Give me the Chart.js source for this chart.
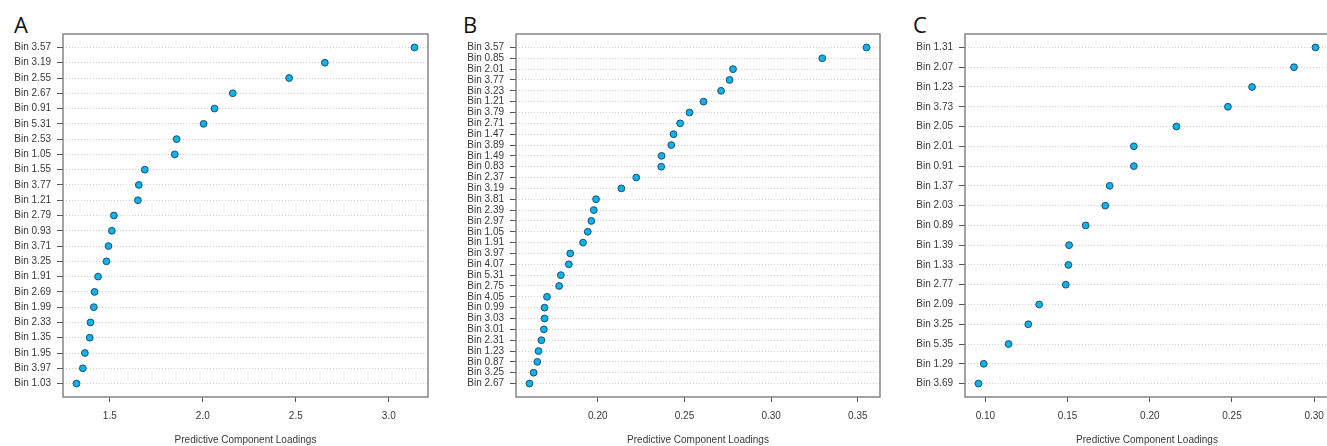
<!DOCTYPE html>
<html>
<head>
<meta charset="utf-8">
<script src="https://cdn.jsdelivr.net/npm/chart.js@4.4.1/dist/chart.umd.min.js"></script>
<style>
  html, body { margin: 0; padding: 0; background: #fff; overflow: hidden; width: 1327px; height: 446px; }
  .panel { position: absolute; top: 0; }
  .letter { position: absolute; font-family: "Open Sans", sans-serif; font-size: 22px; line-height: 22px; color: #111; }
</style>
</head>
<body>
<div class="letter" style="left:14px; top:13px;">A</div>
<div class="letter" style="left:463px; top:13px;">B</div>
<div class="letter" style="left:913px; top:13px;">C</div>
<canvas id="chartA" class="panel" style="left:0px;" width="440" height="446"></canvas>
<canvas id="chartB" class="panel" style="left:452px;" width="440" height="446"></canvas>
<canvas id="chartC" class="panel" style="left:901px;" width="440" height="446"></canvas>
<script>
'use strict';

// Panel A data (top to bottom)
const binsA = ['Bin 3.57', 'Bin 3.19', 'Bin 2.55', 'Bin 2.67', 'Bin 0.91', 'Bin 5.31', 'Bin 2.53', 'Bin 1.05',
  'Bin 1.55', 'Bin 3.77', 'Bin 1.21', 'Bin 2.79', 'Bin 0.93', 'Bin 3.71', 'Bin 3.25', 'Bin 1.91', 'Bin 2.69',
  'Bin 1.99', 'Bin 2.33', 'Bin 1.35', 'Bin 1.95', 'Bin 3.97', 'Bin 1.03'];
const loadingsA = [3.138, 2.656, 2.464, 2.161, 2.063, 2.004, 1.859, 1.849, 1.688, 1.656, 1.651, 1.522, 1.511,
  1.493, 1.482, 1.437, 1.418, 1.414, 1.396, 1.392, 1.366, 1.355, 1.321];
const ticksA = [1.5, 2.0, 2.5, 3.0];

// Panel B data
const binsB = ['Bin 3.57', 'Bin 0.85', 'Bin 2.01', 'Bin 3.77', 'Bin 3.23', 'Bin 1.21', 'Bin 3.79', 'Bin 2.71',
  'Bin 1.47', 'Bin 3.89', 'Bin 1.49', 'Bin 0.83', 'Bin 2.37', 'Bin 3.19', 'Bin 3.81', 'Bin 2.39', 'Bin 2.97',
  'Bin 1.05', 'Bin 1.91', 'Bin 3.97', 'Bin 4.07', 'Bin 5.31', 'Bin 2.75', 'Bin 4.05', 'Bin 0.99', 'Bin 3.03',
  'Bin 3.01', 'Bin 2.31', 'Bin 1.23', 'Bin 0.87', 'Bin 3.25', 'Bin 2.67'];
const loadingsB = [0.355, 0.3295, 0.278, 0.276, 0.2711, 0.261, 0.2529, 0.2475, 0.2437, 0.2424, 0.2368, 0.2366,
  0.2222, 0.2136, 0.199, 0.1977, 0.1963, 0.1942, 0.1915, 0.1841, 0.1833, 0.1787, 0.1777, 0.1707, 0.1693,
  0.1693, 0.1689, 0.1675, 0.1658, 0.1651, 0.163, 0.1606];
const ticksB = [0.20, 0.25, 0.30, 0.35];

// Panel C data
const binsC = ['Bin 1.31', 'Bin 2.07', 'Bin 1.23', 'Bin 3.73', 'Bin 2.05', 'Bin 2.01', 'Bin 0.91', 'Bin 1.37',
  'Bin 2.03', 'Bin 0.89', 'Bin 1.39', 'Bin 1.33', 'Bin 2.77', 'Bin 2.09', 'Bin 3.25', 'Bin 5.35', 'Bin 1.29',
  'Bin 3.69'];
const loadingsC = [0.3008, 0.2877, 0.2622, 0.2475, 0.2162, 0.1903, 0.1903, 0.1756, 0.1729, 0.161, 0.1509,
  0.1505, 0.1489, 0.1327, 0.1261, 0.1141, 0.099, 0.0958];
const ticksC = [0.10, 0.15, 0.20, 0.25, 0.30];

const axisTitle = 'Predictive Component Loadings';

(function () {
  // Colors
  const dotFill = '#0DB3EC',
    dotBorder = '#1F4E6E',
    textColor = '#383838',
    gridColor = '#cfcfcf',
    boxColor = '#7d7d7d',
    tickColor = '#555555';

  const fontFamily = '"Liberation Sans", Arial, sans-serif';

  // draws the full box round the plot region
  const boxPlugin = {
    id: 'plotBox',
    beforeDatasetsDraw(chart) {
      const a = chart.chartArea;
      const ctx = chart.ctx;
      ctx.save();
      ctx.strokeStyle = boxColor;
      ctx.lineWidth = 1.4;
      ctx.strokeRect(a.left, a.top, a.right - a.left, a.bottom - a.top);
      ctx.restore();
    }
  };

  function makeDotChart(id, bins, values, xTicks, decimals, yWidth) {
    const n = bins.length;
    const lo = Math.min(...values),
      hi = Math.max(...values);
    const padX = (hi - lo) * 0.04,
      padY = (n - 1) * 0.04;
    const rows = bins.map(function (b, i) {
      return n - i;
    });

    return new Chart(document.getElementById(id), {
      type: 'scatter',
      data: {
        datasets: [
          {
            data: values.map(function (v, i) {
              return { x: v, y: n - i };
            }),
            backgroundColor: dotFill,
            borderColor: dotBorder,
            borderWidth: 1,
            pointRadius: 3.4
          }
        ]
      },
      options: {
        responsive: false,
        animation: false,
        layout: {
          padding: { top: 34, right: 12, left: 0, bottom: 0 }
        },
        plugins: {
          legend: { display: false },
          tooltip: { enabled: false }
        },
        scales: {
          x: {
            type: 'linear',
            min: lo - padX,
            max: hi + padX,
            afterBuildTicks: function (scale) {
              scale.ticks = xTicks.map(function (v) {
                return { value: v };
              });
            },
            afterFit: function (scale) {
              scale.height = 49;
            },
            grid: {
              drawOnChartArea: false,
              drawTicks: true,
              tickLength: 5,
              tickColor: tickColor
            },
            border: { display: false },
            ticks: {
              padding: 8,
              color: textColor,
              font: { family: fontFamily, size: 10 },
              maxRotation: 0,
              callback: function (value) {
                return Number(value).toFixed(decimals);
              }
            },
            title: {
              display: true,
              text: axisTitle,
              color: textColor,
              font: { family: fontFamily, size: 10 },
              padding: { top: 0, bottom: 0 }
            }
          },
          y: {
            type: 'linear',
            min: 1 - padY,
            max: n + padY,
            afterBuildTicks: function (scale) {
              scale.ticks = rows.map(function (v) {
                return { value: v };
              });
            },
            afterFit: function (scale) {
              scale.width = yWidth;
            },
            grid: {
              color: gridColor,
              lineWidth: 1,
              drawTicks: true,
              tickLength: 6,
              tickColor: tickColor
            },
            border: { display: false, dash: [1, 2] },
            ticks: {
              padding: 6,
              color: textColor,
              font: { family: fontFamily, size: 10 },
              autoSkip: false,
              callback: function (value) {
                return bins[n - value];
              }
            }
          }
        }
      },
      plugins: [boxPlugin]
    });
  }

  makeDotChart('chartA', binsA, loadingsA, ticksA, 1, 63);
  makeDotChart('chartB', binsB, loadingsB, ticksB, 2, 64);
  makeDotChart('chartC', binsC, loadingsC, ticksC, 2, 64);
})();
</script>
</body>
</html>
